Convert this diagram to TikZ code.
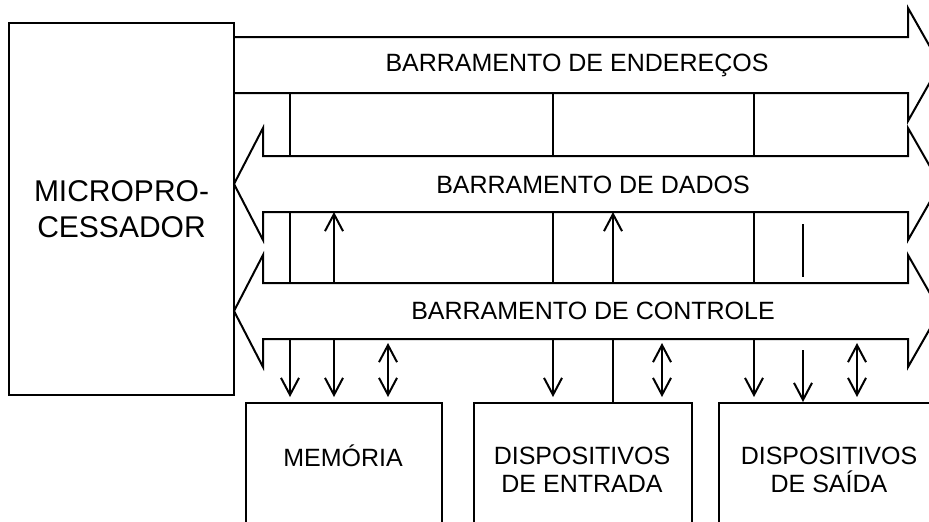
\documentclass[tikz,border=0pt]{standalone}
\usepackage{fontspec}
\setmainfont{Liberation Sans}
\usetikzlibrary{arrows.meta}
\tikzset{
    cpubox/.style={
        rectangle, draw=black, line width=1pt, align=center,
        minimum width=112.5pt, minimum height=186pt,
        font=\fontsize{15}{18}\selectfont
    },
    devbox/.style={
        rectangle, draw=black, line width=1pt, anchor=north west,
        minimum height=80pt
    },
    devlabel/.style={align=center, font=\fontsize{12.5}{14}\selectfont},
    buslabel/.style={font=\fontsize{12.5}{14}\selectfont},
    bus/.style={draw=black, line width=1pt, line join=miter},
    tap/.style={draw=black, line width=1pt},
    tapdown/.style={tap, -{Straight Barb[length=8.5pt,width=9pt]}},
    tapboth/.style={tap, {Straight Barb[length=8.5pt,width=9pt]}-{Straight Barb[length=8.5pt,width=9pt]}}
}

\begin{document}
\begin{tikzpicture}[x=0.5pt, y=-0.5pt]
    \useasboundingbox (0,0) rectangle (929,521);
    \clip (0,0) rectangle (929,521);

    % Microprocessor
    \node[cpubox] (cpu) at (121.5,209) {MICROPRO-\\CESSADOR};

    % Buses
    \draw[bus] (234,37) -- (908,37) -- (908,8) -- (940,64.5) -- (908,121) -- (908,93) -- (234,93);
    \draw[bus] (263,156) -- (908,156) -- (908,128) -- (940,184) -- (908,240) -- (908,212)
        -- (263,212) -- (263,240) -- (234,184) -- (263,128) -- cycle;
    \draw[bus] (263,283) -- (908,283) -- (908,255) -- (940,311) -- (908,367) -- (908,339)
        -- (263,339) -- (263,367) -- (234,311) -- (263,255) -- cycle;

    \node[buslabel] (adrlabel) at (577,65) {BARRAMENTO DE ENDEREÇOS};
    \node[buslabel] (datlabel) at (593,185) {BARRAMENTO DE DADOS};
    \node[buslabel] (ctllabel) at (593,311) {BARRAMENTO DE CONTROLE};

    % Devices
    \node[devbox, minimum width=98pt] (mem) at (245,402) {};
    \node[devbox, minimum width=109pt] (ent) at (473,402) {};
    \node[devbox, minimum width=111pt] (sai) at (718,402) {};

    \node[devlabel] (memlabel) at (343,456) {MEMÓRIA};
    \node[devlabel] (entlabel) at (582,470) {DISPOSITIVOS\\DE ENTRADA};
    \node[devlabel] (sailabel) at (829,470) {DISPOSITIVOS\\DE SAÍDA};

    % Bus edges and columns
    \coordinate (adrB) at (0,93);
    \coordinate (datT) at (0,156);
    \coordinate (datB) at (0,212);
    \coordinate (ctlT) at (0,283);
    \coordinate (ctlB) at (0,339);
    \coordinate (devT) at (0,402);
    \foreach \name/\x in {m1/290, m2/334, m3/388, e1/553, e2/613, e3/662, s1/754, s2/803, s3/857}
        \coordinate (\name) at (\x,0);
    \coordinate (s2a) at (803,224);
    \coordinate (s2b) at (803,277);
    \coordinate (s2c) at (803,350);

    % Address taps
    \foreach \c in {m1,e1,s1} {
        \draw[tap] (\c |- adrB) -- (\c |- datT) (\c |- datB) -- (\c |- ctlT);
        \draw[tapdown, shorten >=2.5pt] (\c |- ctlB) -- (\c |- devT);
    }

    % Data taps
    \foreach \c in {m2,e2}
        \draw[tapdown] (\c |- ctlT) -- (\c |- datB);
    \draw[tapdown, shorten >=2.5pt] (m2 |- ctlB) -- (m2 |- devT);
    \draw[tap] (e2 |- ctlB) -- (e2 |- devT);
    \draw[tap] (s2a) -- (s2b);
    \draw[tapdown] (s2c) -- (s2 |- devT);

    % Control taps
    \foreach \c in {m3,e3,s3}
        \draw[tapboth, shorten <=2pt, shorten >=2.5pt] (\c |- ctlB) -- (\c |- devT);
\end{tikzpicture}
\end{document}
